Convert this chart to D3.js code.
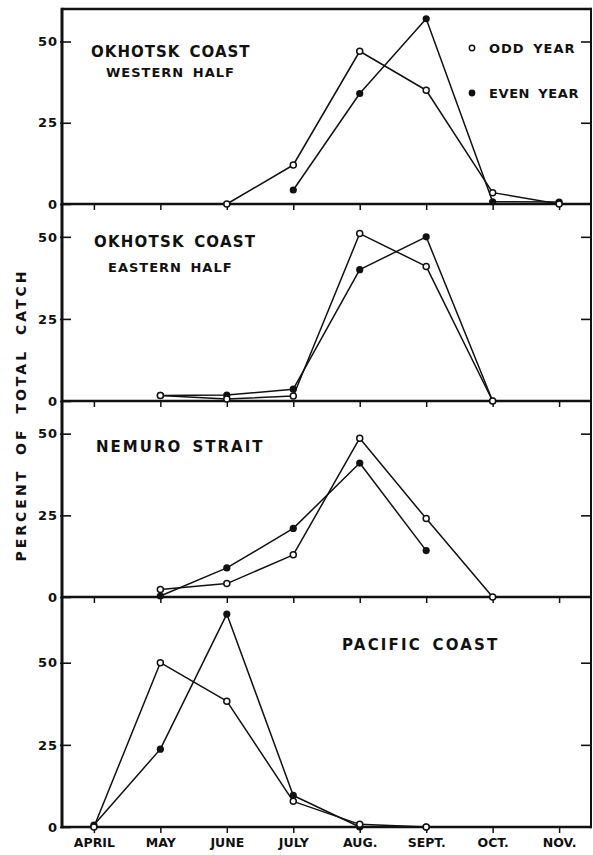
<!DOCTYPE html>
<html>
<head>
<meta charset="utf-8">
<script src="https://cdn.jsdelivr.net/npm/d3@7"></script>
<style>
  body { margin: 0; background: #fff; }
  svg { display: block; }
  text { font-family: "DejaVu Sans", sans-serif; font-weight: bold; fill: #111; }
</style>
</head>
<body>
<div class="chart-area"></div>
<script>
// months on the x axis
const months = ["APRIL", "MAY", "JUNE", "JULY", "AUG.", "SEPT.", "OCT.", "NOV."];
const yTickValues = [0, 25, 50];

// percent of total catch, one value per month (null = no point)
const westOdd  = [null, null, 0, 12, 47, 35, 3.5, 0];
const westEven = [null, null, null, 4.3, 34, 57, 0.7, 0.6];
const eastOdd  = [null, 1.7, 0.6, 1.5, 51, 41, 0, null];
const eastEven = [null, 1.7, 1.8, 3.6, 40, 50, 0, null];
const nemuroOdd  = [null, 2.3, 4.1, 12.9, 48.6, 24, 0, null];
const nemuroEven = [null, 0.3, 8.9, 21, 41, 14.2, null, null];
const pacificOdd  = [0, 50, 38.3, 7.8, 0.8, 0, null, null];
const pacificEven = [0.6, 23.7, 64.8, 9.6, 0, 0, null, null];

const panelTitles = ["OKHOTSK COAST", "OKHOTSK COAST", "NEMURO STRAIT", "PACIFIC COAST"];
const panelSubtitles = ["WESTERN HALF", "EASTERN HALF", "", ""];
const panelMax = [60, 60, 60, 70];
const legendLabels = ["ODD YEAR", "EVEN YEAR"];

const oddSeries = [westOdd, eastOdd, nemuroOdd, pacificOdd];
const evenSeries = [westEven, eastEven, nemuroEven, pacificEven];

// layout
const W = 593, H = 855;
const left = 62, right = 591;
const bands = [[9, 204], [204, 401], [401, 597], [597, 827]];
const titlePos = [
  {x: 91, y: 57, sx: 106, sy: 77, ls: 1},
  {x: 94, y: 247, sx: 108, sy: 272, ls: 1.2},
  {x: 96, y: 452, ls: 2},
  {x: 342, y: 650, ls: 2.2}
];

let svg = d3.select(".chart-area").append("svg")
  .attr("width", W)
  .attr("height", H);

let xScale = d3.scalePoint()
  .domain(months)
  .range([left, right])
  .padding(0.48);

const ink = "#111";

bands.forEach((b, i) => {
  let yScale = d3.scaleLinear()
    .domain([0, panelMax[i]])
    .range([b[1], b[0]]);

  let g = svg.append("g");

  // left axis ticks + labels
  let yAxis = d3.axisLeft(yScale)
    .tickValues(yTickValues)
    .tickSize(-9)
    .tickSizeOuter(0)
    .tickPadding(4)
    .tickFormat(d3.format("d"));

  let ya = g.append("g")
    .attr("transform", `translate(${left},0)`)
    .call(yAxis);
  ya.select(".domain").remove();
  ya.selectAll(".tick line").attr("stroke", ink).attr("stroke-width", 1.6)
    .attr("x1", -2);
  ya.selectAll(".tick text")
    .attr("font-size", 13)
    .attr("letter-spacing", 1)
    .attr("fill", ink)
    .style("font-family", "DejaVu Sans")
    .style("font-weight", "bold");

  // right axis ticks (pointing inward)
  let yAxisR = d3.axisRight(yScale)
    .tickValues(yTickValues.filter(d => d > 0))
    .tickSize(-10)
    .tickSizeOuter(0)
    .tickFormat("");
  let yr = g.append("g")
    .attr("transform", `translate(${right},0)`)
    .call(yAxisR);
  yr.select(".domain").remove();
  yr.selectAll(".tick line").attr("stroke", ink).attr("stroke-width", 1.6);

  // month ticks below each baseline
  let xAxis = d3.axisBottom(xScale)
    .tickSize(6)
    .tickSizeOuter(0)
    .tickFormat(i === bands.length - 1 ? (d => d) : "");
  let xa = g.append("g")
    .attr("transform", `translate(0,${b[1]})`)
    .call(xAxis);
  xa.select(".domain").remove();
  xa.selectAll(".tick line").attr("stroke", ink).attr("stroke-width", 1.5);
  xa.selectAll(".tick text")
    .attr("font-size", 12.5)
    .attr("fill", ink)
    .attr("dy", "0.9em")
    .style("font-family", "DejaVu Sans")
    .style("font-weight", "bold");

  // baseline
  g.append("line")
    .attr("x1", left).attr("x2", right)
    .attr("y1", yScale(0)).attr("y2", yScale(0))
    .attr("stroke", ink)
    .attr("stroke-width", 2.6);

  // titles
  let tp = titlePos[i];
  g.append("text")
    .attr("x", tp.x).attr("y", tp.y)
    .attr("font-size", 15)
    .attr("letter-spacing", tp.ls)
    .attr("word-spacing", 3)
    .text(panelTitles[i]);
  if (panelSubtitles[i]) {
    g.append("text")
      .attr("x", tp.sx).attr("y", tp.sy)
      .attr("font-size", 13)
      .attr("letter-spacing", 1)
      .attr("word-spacing", 3)
      .text(panelSubtitles[i]);
  }

  const line = d3.line()
    .defined(d => d != null)
    .x((d, j) => xScale(months[j]))
    .y(d => yScale(d));

  [oddSeries[i], evenSeries[i]].forEach(series => {
    g.append("path")
      .datum(series)
      .attr("fill", "none")
      .attr("stroke", ink)
      .attr("stroke-width", 1.5)
      .attr("stroke-linejoin", "round")
      .attr("d", line);
  });

  let pts = (s) => s.map((v, j) => ({m: months[j], v: v})).filter(d => d.v != null);

  g.selectAll("circle.even")
    .data(pts(evenSeries[i]))
    .enter()
    .append("circle")
    .attr("class", "even")
    .attr("cx", d => xScale(d.m))
    .attr("cy", d => yScale(d.v))
    .attr("r", 3.6)
    .attr("fill", ink);

  g.selectAll("circle.odd")
    .data(pts(oddSeries[i]))
    .enter()
    .append("circle")
    .attr("class", "odd")
    .attr("cx", d => xScale(d.m))
    .attr("cy", d => yScale(d.v))
    .attr("r", 3)
    .attr("fill", "#fff")
    .attr("stroke", ink)
    .attr("stroke-width", 1.5);
});

// frame: top, left, right
svg.append("line")
  .attr("x1", left).attr("x2", right)
  .attr("y1", bands[0][0]).attr("y2", bands[0][0])
  .attr("stroke", ink).attr("stroke-width", 2.6);
svg.append("line")
  .attr("x1", left).attr("x2", left)
  .attr("y1", bands[0][0] - 1.3).attr("y2", bands[3][1] + 1.3)
  .attr("stroke", ink).attr("stroke-width", 3);
svg.append("line")
  .attr("x1", right).attr("x2", right)
  .attr("y1", bands[0][0] - 1.3).attr("y2", bands[3][1] + 1.3)
  .attr("stroke", ink).attr("stroke-width", 2);

// legend
let legend = svg.append("g");
[48, 93].forEach((ly, k) => {
  legend.append("circle")
    .attr("cx", 472).attr("cy", ly)
    .attr("r", 2.7)
    .attr("fill", k === 0 ? "#fff" : ink)
    .attr("stroke", ink)
    .attr("stroke-width", 1.4);
  legend.append("text")
    .attr("x", 489).attr("y", ly + 5)
    .attr("font-size", 13)
    .attr("letter-spacing", k === 0 ? 1 : 0.6)
    .attr("word-spacing", 3)
    .text(legendLabels[k]);
});

// y title
svg.append("text")
  .attr("transform", "translate(26,415) rotate(-90)")
  .attr("text-anchor", "middle")
  .attr("font-size", 14)
  .attr("letter-spacing", 3)
  .attr("word-spacing", 6)
  .text("PERCENT OF TOTAL CATCH");
</script>
</body>
</html>
